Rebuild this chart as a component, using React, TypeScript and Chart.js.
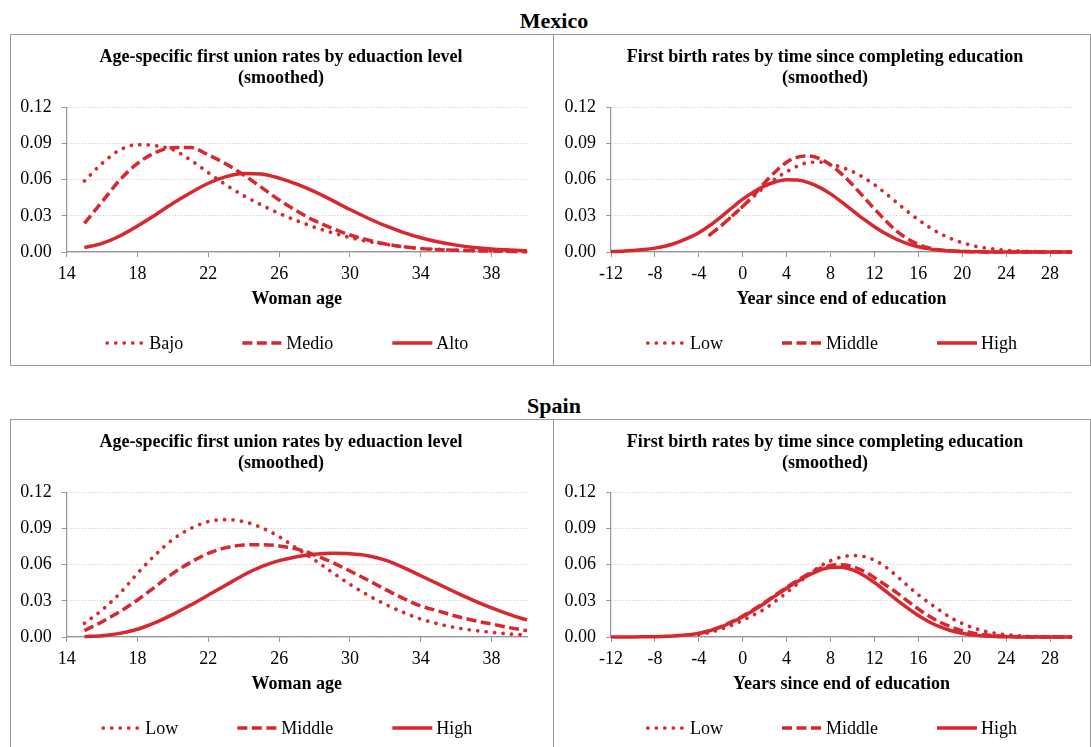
import React, { useEffect, useRef } from "react";
import { Chart, registerables } from "chart.js";

Chart.register(...registerables);

// ---------- data ----------
const ages = [15, 16, 17, 18, 19, 20, 21, 22, 23, 24, 25, 26, 27, 28, 29, 30, 31, 32, 33, 34, 35, 36, 37, 38, 39, 40];
const years = [-12, -11, -10, -9, -8, -7, -6, -5, -4, -3, -2, -1, 0, 1, 2, 3, 4, 5, 6, 7, 8, 9, 10, 11, 12, 13, 14, 15, 16, 17, 18, 19, 20, 21, 22, 23, 24, 25, 26, 27, 28, 29, 30];

const ageTicks = [14, 18, 22, 26, 30, 34, 38];
const yearTicks = [-12, -8, -4, 0, 4, 8, 12, 16, 20, 24, 28];
const rateTicks = [0, 0.03, 0.06, 0.09, 0.12];

// Mexico – first union rates by age
const mexUnionBajo = [0.0589, 0.0735, 0.0846, 0.089, 0.0882, 0.0848, 0.0763, 0.0658, 0.0556, 0.0467, 0.039, 0.032, 0.026, 0.0205, 0.016, 0.012, 0.0088, 0.0064, 0.0044, 0.003, 0.0022, 0.0016, 0.0011, 0.0008, 0.0005, 0.0003];
const mexUnionMedio = [0.0238, 0.0417, 0.0597, 0.0735, 0.0824, 0.0865, 0.0866, 0.0805, 0.073, 0.0639, 0.0536, 0.0431, 0.034, 0.026, 0.0196, 0.0141, 0.01, 0.0066, 0.0044, 0.0028, 0.0019, 0.0014, 0.0011, 0.0008, 0.0005, 0.0003];
const mexUnionAlto = [0.0036, 0.0072, 0.0133, 0.0216, 0.0307, 0.0404, 0.0492, 0.057, 0.0625, 0.0652, 0.0647, 0.0613, 0.0562, 0.05, 0.0428, 0.0352, 0.0282, 0.0218, 0.0163, 0.0118, 0.0083, 0.0057, 0.0038, 0.0025, 0.0017, 0.0011];

// Mexico – first birth rates by years since end of education
const mexBirthLow = [null, null, null, null, null, null, null, null, null, 0.0142, 0.0215, 0.0295, 0.0378, 0.046, 0.054, 0.061, 0.0665, 0.0713, 0.0742, 0.0745, 0.0728, 0.0703, 0.0667, 0.0618, 0.0558, 0.0488, 0.0412, 0.0337, 0.0268, 0.0205, 0.0152, 0.011, 0.0077, 0.0052, 0.0035, 0.0023, 0.0014, 0.0009, 0.0005, 0.0003, 0.0002, 0.0001, 0.0001];
const mexBirthMiddle = [null, null, null, null, null, null, null, null, null, 0.0142, 0.0215, 0.0295, 0.0378, 0.047, 0.0575, 0.0668, 0.0745, 0.0787, 0.0797, 0.0775, 0.0722, 0.0648, 0.0558, 0.0458, 0.0357, 0.0262, 0.0175, 0.011, 0.0063, 0.0034, 0.0017, 0.0008, 0.0004, 0.0002, 0.0001, 0, 0, 0, 0, 0, 0, 0, 0];
const mexBirthHigh = [0.0004, 0.0007, 0.0012, 0.002, 0.0032, 0.005, 0.0078, 0.0115, 0.016, 0.022, 0.029, 0.0365, 0.0438, 0.0498, 0.0548, 0.0583, 0.06, 0.0597, 0.0575, 0.0536, 0.0482, 0.0416, 0.0345, 0.0275, 0.021, 0.0153, 0.0106, 0.007, 0.0044, 0.0026, 0.0015, 0.0008, 0.0004, 0.0002, 0.0001, 0, 0, 0, 0, 0, 0, 0, 0];

// Spain – first union rates by age
const spaUnionLow = [0.0113, 0.0224, 0.0362, 0.0528, 0.068, 0.081, 0.09, 0.0957, 0.0973, 0.0957, 0.0907, 0.0832, 0.0735, 0.0639, 0.0536, 0.0437, 0.0348, 0.0271, 0.0205, 0.0149, 0.0108, 0.0077, 0.0055, 0.0039, 0.0025, 0.0017];
const spaUnionMiddle = [0.0053, 0.0127, 0.021, 0.0307, 0.0417, 0.0528, 0.0619, 0.0694, 0.0741, 0.0763, 0.0766, 0.0755, 0.073, 0.068, 0.0619, 0.0547, 0.0473, 0.0395, 0.0321, 0.0257, 0.0215, 0.0172, 0.0137, 0.0108, 0.0078, 0.0052];
const spaUnionHigh = [0.0003, 0.0011, 0.003, 0.0064, 0.0119, 0.0188, 0.0265, 0.0348, 0.0431, 0.0514, 0.0583, 0.0633, 0.0666, 0.0686, 0.0694, 0.069, 0.0674, 0.0638, 0.0578, 0.0508, 0.0438, 0.0368, 0.0302, 0.0242, 0.0188, 0.014];

// Spain – first birth rates by years since end of education
const spaBirthLow = [null, null, null, null, null, null, null, null, 0.002, 0.0038, 0.0064, 0.0098, 0.0138, 0.0183, 0.0233, 0.0298, 0.0368, 0.0442, 0.0518, 0.0583, 0.0632, 0.0663, 0.0675, 0.0668, 0.0637, 0.0583, 0.0508, 0.0428, 0.035, 0.0282, 0.0218, 0.0158, 0.0112, 0.0076, 0.0049, 0.0031, 0.0019, 0.0011, 0.0006, 0.0003, 0.0002, 0.0001, 0];
const spaBirthMiddle = [null, null, null, null, null, null, null, null, 0.003, 0.0054, 0.0086, 0.0127, 0.0174, 0.0228, 0.0287, 0.035, 0.0412, 0.047, 0.0524, 0.0566, 0.0593, 0.06, 0.0584, 0.0547, 0.0492, 0.0432, 0.037, 0.03, 0.0232, 0.0172, 0.0122, 0.0083, 0.0053, 0.0032, 0.0018, 0.001, 0.0005, 0.0002, 0.0001, 0, 0, 0, 0];
const spaBirthHigh = [0, 0, 0.0001, 0.0002, 0.0003, 0.0006, 0.001, 0.0018, 0.003, 0.0052, 0.0082, 0.0122, 0.0168, 0.0222, 0.028, 0.0343, 0.0404, 0.046, 0.0512, 0.0553, 0.0576, 0.0578, 0.0556, 0.0512, 0.0452, 0.0382, 0.031, 0.0241, 0.0178, 0.0125, 0.0083, 0.0052, 0.0031, 0.0017, 0.0009, 0.0005, 0.0002, 0.0001, 0, 0, 0, 0, 0];

const unionTitle = ["Age-specific first union rates by eduaction level", "(smoothed)"];
const birthTitle = ["First birth rates by time since completing education", "(smoothed)"];

// ---------- style ----------
const RED = "#D8272E";
const AXIS = "#959595";
const GRID = "#c4c4c4";
const FONT = "'Liberation Serif', 'Times New Roman', serif";

const styles = [
  { borderDash: [0.1, 8.4], borderCapStyle: "round" as const, width: 3.7 },
  { borderDash: [10, 4.5], borderCapStyle: "butt" as const, width: 3.5 },
  { borderDash: [] as number[], borderCapStyle: "butt" as const, width: 3.5 },
];

// shifts the built-in title box horizontally so it is centred on the panel
const shiftTitle = {
  id: "shiftTitle",
  afterLayout(chart: any, _args: any, opts: any) {
    const t = chart.titleBlock;
    if (t) {
      t.left += opts.dx;
      t.right += opts.dx;
    }
  },
};

const lineLegend = {
  id: "lineLegend",
  afterDraw(chart: any, _args: any, opts: any) {
    const { ctx, chartArea } = chart;
    ctx.save();
    ctx.font = `18px ${FONT}`;
    const items = chart.data.datasets.map((ds: any) => ({
      ds,
      w: opts.lineLen + opts.textGap + ctx.measureText(ds.label).width,
    }));
    const total = items.reduce((s: number, it: any) => s + it.w, 0) + opts.gap * (items.length - 1);
    let x = (chartArea.left + chartArea.right) / 2 + opts.dx - total / 2;
    const y = chartArea.bottom + opts.dy;
    items.forEach(({ ds, w }: any) => {
      ctx.beginPath();
      ctx.strokeStyle = ds.borderColor;
      ctx.lineWidth = ds.borderWidth;
      ctx.lineCap = ds.borderCapStyle;
      ctx.setLineDash(ds.borderDash);
      const inset = ds.borderCapStyle === "round" ? 1.8 : 0;
      ctx.moveTo(x + inset, y);
      ctx.lineTo(x + opts.lineLen, y);
      ctx.stroke();
      ctx.setLineDash([]);
      ctx.fillStyle = "#000";
      ctx.textBaseline = "middle";
      ctx.textAlign = "left";
      ctx.fillText(ds.label, x + opts.lineLen + opts.textGap, y + 1);
      x += w + opts.gap;
    });
    ctx.restore();
  },
};

type PanelProps = {
  left: number;
  top: number;
  width: number;
  height: number;
  xs: number[];
  series: (number | null)[][];
  labels: string[];
  title: string[];
  xTitle: string;
  xMin: number;
  xMax: number;
  xTicks: number[];
  yWidth: number;
  padRight: number;
};

function Panel(p: PanelProps) {
  const ref = useRef<HTMLCanvasElement>(null);
  useEffect(() => {
    const datasets = p.series.map((arr, i) => ({
      label: p.labels[i],
      data: p.xs.map((x, j) => ({ x, y: arr[j] })),
      borderColor: RED,
      backgroundColor: RED,
      borderWidth: styles[i].width,
      borderDash: styles[i].borderDash,
      borderCapStyle: styles[i].borderCapStyle,
      borderJoinStyle: "round" as const,
      pointRadius: 0,
      fill: false,
      cubicInterpolationMode: "monotone" as const,
      clip: false as const,
    }));
    const chart = new Chart(ref.current!, {
      type: "line",
      data: { datasets },
      plugins: [shiftTitle, lineLegend],
      options: {
        animation: false,
        responsive: false,
        events: [],
        layout: { padding: { left: 0, right: p.padRight, top: 0, bottom: p.height - 217 - 68 } },
        plugins: {
          legend: { display: false },
          tooltip: { enabled: false },
          title: {
            display: true,
            text: p.title,
            color: "#000",
            font: { family: FONT, size: 18, weight: "bold", lineHeight: "21px" },
            padding: { top: 11.8, bottom: 18.5 },
          },
          shiftTitle: { dx: 12.5 },
          lineLegend: { lineLen: 40, textGap: 4, gap: 59, dx: -10, dy: 91 },
        } as any,
        scales: {
          x: {
            type: "linear",
            min: p.xMin,
            max: p.xMax,
            afterBuildTicks: (s: any) => {
              s.ticks = p.xTicks.map((v) => ({ value: v }));
            },
            afterFit: (s: any) => {
              s.height = 68;
            },
            grid: { drawOnChartArea: false, drawTicks: true, tickLength: 5, color: AXIS, tickColor: AXIS },
            border: { color: AXIS, width: 1.2 },
            ticks: {
              padding: 6,
              color: "#000",
              autoSkip: false,
              maxRotation: 0,
              font: { family: FONT, size: 18 },
              callback: (v: any) => String(v),
            },
            title: {
              display: true,
              text: p.xTitle,
              color: "#000",
              font: { family: FONT, size: 18, weight: "bold", lineHeight: 1.2 },
              padding: { top: 0, bottom: 9.9 },
            },
          },
          y: {
            type: "linear",
            min: 0,
            max: 0.12,
            afterBuildTicks: (s: any) => {
              s.ticks = rateTicks.map((v) => ({ value: v }));
            },
            afterFit: (s: any) => {
              s.width = p.yWidth;
            },
            grid: { color: GRID, tickColor: AXIS, tickLength: 5, drawTicks: true },
            border: { color: AXIS, width: 1.2, dash: [1, 2] },
            ticks: {
              padding: 10,
              color: "#000",
              font: { family: FONT, size: 18 },
              callback: (v: any) => Number(v).toFixed(2),
            },
          },
        },
      } as any,
    });
    return () => chart.destroy();
  }, []);
  return (
    <canvas
      ref={ref}
      width={p.width}
      height={p.height}
      style={{ position: "absolute", left: p.left, top: p.top, width: p.width, height: p.height }}
    />
  );
}

const headingStyle = (top: number): React.CSSProperties => ({
  position: "absolute",
  left: 454,
  width: 200,
  top,
  textAlign: "center",
  fontFamily: FONT,
  fontWeight: "bold",
  fontSize: 22,
  lineHeight: "22px",
  color: "#000",
});

export default function App() {
  return (
    <div
      style={{
        position: "absolute",
        left: 0,
        top: 0,
        width: 1091,
        height: 747,
        overflow: "hidden",
        background: "#fff",
      }}
    >
      <div style={headingStyle(10)}>Mexico</div>
      <div style={{ position: "absolute", left: 10, top: 34, width: 1079, height: 330, border: "1px solid #999" }} />
      <div style={{ position: "absolute", left: 553, top: 34, width: 1, height: 332, background: "#999" }} />

      <div style={headingStyle(395)}>Spain</div>
      <div style={{ position: "absolute", left: 10, top: 419, width: 1079, height: 340, border: "1px solid #999" }} />
      <div style={{ position: "absolute", left: 553, top: 419, width: 1, height: 340, background: "#999" }} />

      <Panel
        left={10}
        top={35}
        width={543}
        height={330}
        xs={ages}
        series={[mexUnionBajo, mexUnionMedio, mexUnionAlto]}
        labels={["Bajo", "Medio", "Alto"]}
        title={unionTitle}
        xTitle="Woman age"
        xMin={14}
        xMax={40}
        xTicks={ageTicks}
        yWidth={56.7}
        padRight={26}
      />
      <Panel
        left={553}
        top={35}
        width={538}
        height={330}
        xs={years}
        series={[mexBirthLow, mexBirthMiddle, mexBirthHigh]}
        labels={["Low", "Middle", "High"]}
        title={birthTitle}
        xTitle="Year since end of education"
        xMin={-12}
        xMax={30}
        xTicks={yearTicks}
        yWidth={58}
        padRight={19}
      />
      <Panel
        left={10}
        top={420}
        width={543}
        height={327}
        xs={ages}
        series={[spaUnionLow, spaUnionMiddle, spaUnionHigh]}
        labels={["Low", "Middle", "High"]}
        title={unionTitle}
        xTitle="Woman age"
        xMin={14}
        xMax={40}
        xTicks={ageTicks}
        yWidth={56.7}
        padRight={26}
      />
      <Panel
        left={553}
        top={420}
        width={538}
        height={327}
        xs={years}
        series={[spaBirthLow, spaBirthMiddle, spaBirthHigh]}
        labels={["Low", "Middle", "High"]}
        title={birthTitle}
        xTitle="Years since end of education"
        xMin={-12}
        xMax={30}
        xTicks={yearTicks}
        yWidth={58}
        padRight={19}
      />
    </div>
  );
}
